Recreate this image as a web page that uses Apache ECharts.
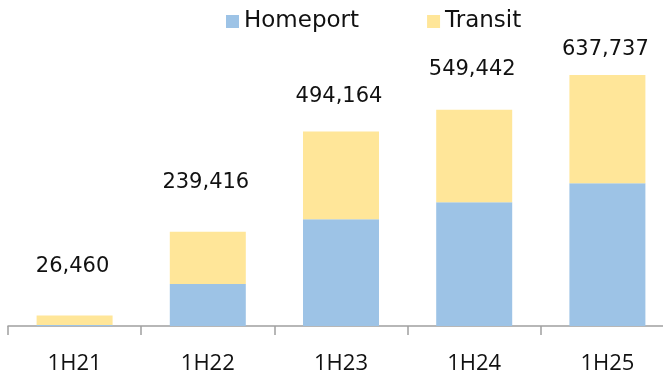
<!DOCTYPE html>
<html>
<head>
<meta charset="utf-8">
<script src="https://cdn.jsdelivr.net/npm/echarts@6/dist/echarts.min.js"></script>
<style>
  html, body { margin: 0; padding: 0; background: #fff; }
  #chart { width: 663px; height: 370px; }
</style>
</head>
<body>
<div id="chart"></div>
<script>
// Half-year periods
const periods = ['1H21', '1H22', '1H23', '1H24', '1H25'];
// Passengers by type
const homeport = [2500, 106700, 271100, 314300, 362500];
const transit = [23960, 132716, 223064, 235142, 275237];

const totals = periods.map((_, i) => homeport[i] + transit[i]);

// Vertical gap between each bar top and its total label
const labelGap = [38, 38, 24, 29, 14];

const chart = echarts.init(document.getElementById('chart'), null, { renderer: 'canvas' });

chart.setOption({
  animation: false,
  backgroundColor: '#ffffff',
  legend: {
    data: ['Homeport', 'Transit'],
    left: 226,
    top: 10,
    padding: 0,
    icon: 'rect',
    itemWidth: 13,
    itemHeight: 13,
    itemGap: 68,
    textStyle: { fontFamily: 'DejaVu Sans', fontSize: 23, color: '#111' }
  },
  // plot area runs past the right edge of the canvas
  grid: { left: 8, top: 0, width: 666, height: 326, containLabel: false, outerBoundsMode: 'none' },
  xAxis: {
    type: 'category',
    data: periods,
    axisLine: { lineStyle: { color: '#a0a0a0', width: 1.5 } },
    axisTick: { show: true, length: 9, lineStyle: { color: '#a0a0a0', width: 1.5 } },
    axisLabel: { fontFamily: 'Open Sans', fontSize: 22, color: '#111', margin: 27 }
  },
  yAxis: { type: 'value', min: 0, max: 828300, show: false, splitLine: { show: false } },
  series: [
    {
      name: 'Homeport',
      type: 'bar',
      stack: 'pax',
      barWidth: 76,
      itemStyle: { color: '#9DC3E6' },
      data: homeport
    },
    {
      name: 'Transit',
      type: 'bar',
      stack: 'pax',
      barWidth: 76,
      itemStyle: { color: '#FFE699' },
      data: transit.map((v, i) => ({
        value: v,
        label: {
          show: true,
          position: 'top',
          distance: labelGap[i],
          offset: [-2, 0],
          formatter: () => totals[i].toLocaleString('en-US'),
          fontFamily: 'DejaVu Sans',
          fontSize: 21,
          lineHeight: 22,
          color: '#111'
        }
      }))
    }
  ]
});
</script>
</body>
</html>
